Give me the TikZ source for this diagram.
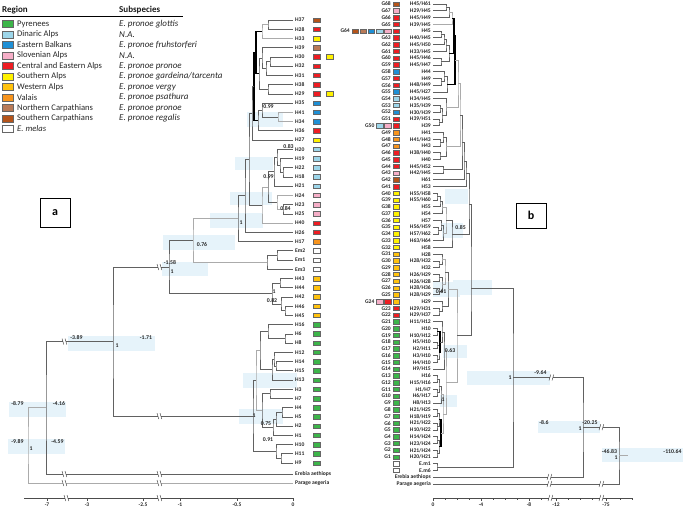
\documentclass[tikz,border=0pt]{standalone}
\usepackage{fontspec}
\setmainfont{Carlito}
\usetikzlibrary{calc}
\definecolor{py}{HTML}{3DB54A}
\definecolor{da}{HTML}{9DD6EA}
\definecolor{eb}{HTML}{1E8FD5}
\definecolor{sl}{HTML}{F6AFC8}
\definecolor{ce}{HTML}{EE1D23}
\definecolor{sa}{HTML}{FFF200}
\definecolor{wa}{HTML}{FFC20E}
\definecolor{va}{HTML}{F7941D}
\definecolor{nc}{HTML}{B97A57}
\definecolor{sc}{HTML}{B5541A}
\definecolor{shadeblue}{HTML}{E6F3FA}
\newcommand\tcl[5][br]{\path let \p1=($(#4)!0.5!(#5)$) in coordinate (#2) at (#3pt,\y1);\draw[#1] (#4) -| (#2) |- (#5);}
\newcommand\tcly[6][br]{\coordinate (#2) at (#3,#4);\draw[#1] (#5) -| (#2) |- (#6);}
\newcommand\bsl[2]{\fill[white] (#1-1.7,#2-1.2) rectangle (#1+0.5,#2+1.2);\draw[black!75,line width=0.45pt] (#1-3,#2-3) -- (#1-1.2,#2+3) (#1,#2-3) -- (#1+1.8,#2+3);}
\newcommand\fsl[2]{\fill[white] (#1-1.7,#2-1.2) rectangle (#1+0.5,#2+1.2);\draw[black!75,line width=0.45pt] (#1-1.2,#2-3) -- (#1-3,#2+3) (#1+1.8,#2-3) -- (#1,#2+3);}
\begin{document}
\begin{tikzpicture}[x=1pt,y=-1pt,
 br/.style={draw=black!62, line width=0.65pt},
 brl/.style={draw=black!33, line width=0.65pt},
 brk/.style={draw=black, line width=1.1pt},
 leaf/.style={font=\fontsize{5.6}{6}\selectfont\bfseries, inner sep=0pt, text=black!85},
 suplbl/.style={font=\fontsize{5.8}{6}\selectfont\bfseries, inner sep=0pt, text=black!85},
 cbox/.style={draw=black!60, line width=0.35pt, minimum width=6.5pt, minimum height=4.5pt, inner sep=0pt},
 lbox/.style={draw=black!60, line width=0.4pt, minimum width=11pt, minimum height=7pt, inner sep=0pt},
 legt/.style={anchor=west, inner sep=0pt, font=\fontsize{8.6}{9}\selectfont, text=black!85},
 legi/.style={anchor=west, inner sep=0pt, font=\fontsize{9}{9}\selectfont\itshape, text=black!85},
 legh/.style={anchor=west, inner sep=0pt, font=\fontsize{9}{9}\selectfont\bfseries, text=black!90},
 shd/.style={fill=shadeblue},
 axl/.style={font=\fontsize{5.5}{6}\selectfont\bfseries, inner sep=0pt, text=black!85},
 panel/.style={draw, line width=0.9pt, inner sep=0pt, font=\fontsize{12}{12}\selectfont\bfseries}
]
\useasboundingbox (0,0) rectangle (685,515);

% ---------- legend ----------
\node[legh] (hreg) at (2,10) {Region};
\node[legh] (hsub) at (119,10) {Subspecies};
\draw[line width=0.8pt] (0,16) -- (183,16);
\foreach \c/\r/\s [count=\i from 0] in {py/Pyrenees/{E. pronoe glottis}, da/Dinaric Alps/N.A., eb/Eastern Balkans/{E. pronoe fruhstorferi}, sl/Slovenian Alps/N.A., ce/Central and Eastern Alps/{E. pronoe pronoe}, sa/Southern Alps/{E. pronoe gardeina/tarcenta}, wa/Western Alps/{E. pronoe vergy}, va/Valais/{E. pronoe psathura}, nc/Northern Carpathians/{E. pronoe pronoe}, sc/Southern Carpathians/{E. pronoe regalis}}{
  \node[lbox,fill=\c] (lb\i) at (7.5,{24+10.5*\i}) {};
  \node[legt] (lr\i) at (17,{24+10.5*\i}) {\r};
  \node[legi] (ls\i) at (119,{24+10.5*\i}) {\s};
}
\node[lbox,fill=white] (lbm) at (7.5,129) {};
\node[legi,font=\fontsize{8.6}{9}\selectfont\itshape] (lrm) at (17,129) {E. melas};

% ---------- shaded boxes ----------
\fill[shd] (247,112) rectangle (283,127);
\fill[shd] (235,157) rectangle (273,170);
\fill[shd] (230,192) rectangle (272,205);
\fill[shd] (210,213) rectangle (263,228);
\fill[shd] (163,235) rectangle (235,250);
\fill[shd] (162,262) rectangle (208,276);
\fill[shd] (68,336) rectangle (155,351);
\fill[shd] (9,402) rectangle (66,417);
\fill[shd] (8,439) rectangle (65,454);
\fill[shd] (243,373) rectangle (297,388);
\fill[shd] (239,409) rectangle (283,424);
\fill[shd] (445,189) rectangle (468,204);
\fill[shd] (442,223) rectangle (463,238);
\fill[shd] (453,280) rectangle (492,295);
\fill[shd] (433,282) rectangle (460,297);
\fill[shd] (443,345) rectangle (467,358);
\fill[shd] (440,395) rectangle (457,407);
\fill[shd] (467,371) rectangle (550,385);
\fill[shd] (538,421) rectangle (600,433);
\fill[shd] (602,448) rectangle (683,462);

% ---------- left leaves ----------
\foreach \n/\c [count=\i from 0] in {H37/sc,H28/ce,H33/sa,H39/nc,H30/ce,H32/ce,H31/ce,H38/ce,H29/ce,H35/eb,H41/eb,H34/eb,H36/ce,H27/sa,H20/da,H19/da,H22/da,H18/da,H21/da,H24/sl,H23/sl,H25/sl,H40/ce,H26/ce,H17/va,Em2/white,Em1/white,Em3/white,H43/wa,H44/wa,H42/wa,H46/wa,H45/wa,H16/py,H6/py,H8/py,H12/py,H14/py,H15/py,H13/py,H3/py,H7/py,H4/py,H5/py,H2/py,H1/py,H10/py,H11/py,H9/py}{
  \coordinate (L\n) at (293,{20+9.23*\i});
  \node[leaf,anchor=west] (t\n) at (295,{20+9.23*\i}) {\n};
  \node[cbox,fill=\c] (b\n) at (316.5,{20+9.23*\i}) {};
}
\node[cbox,fill=sa] (bH30x) at ([xshift=13pt]bH30) {};
\node[cbox,fill=sa] (bH29x) at ([xshift=13pt]bH29) {};
\coordinate (LEre) at (293,474);
\coordinate (LPar) at (293,483);
\node[leaf,anchor=west] (tEre) at (295,474) {Erebia aethiops};
\node[leaf,anchor=west] (tPar) at (295,483) {Parage aegeria};

% ---------- left tree ----------
\tcl{n1}{268}{LH37}{LH28}
\tcl[brl]{n2}{262}{n1}{LH33}
\tcl{n3}{270}{LH30}{LH32}
\tcl{n4}{266}{n3}{LH31}
\tcl{n5}{262}{LH39}{n4}
\tcl{n6}{268}{LH38}{LH29}
\tcl{n7}{259}{n5}{n6}
\tcl[brk]{n8}{256}{n2}{n7}
\tcl[brl]{e1}{278}{LH41}{LH34}
\tcl{e2}{262}{LH35}{e1}
\tcl{e3}{258}{e2}{LH36}
\tcl[brk]{n9}{254}{n8}{e3}
\tcl{n10}{252}{n9}{LH27}
\tcl{d1}{283}{LH22}{LH18}
\tcl{d2}{280}{LH19}{d1}
\tcl{d3}{277}{LH20}{d2}
\tcl{d4}{274}{d3}{LH21}
\tcl{k1}{283}{LH23}{LH25}
\tcl[brl]{k2}{277}{LH24}{k1}
\tcl{dk}{268}{d4}{k2}
\tcl[brl]{dk2}{262}{dk}{LH40}
\tcl{lA}{249}{n10}{dk2}
\tcl{lB}{245}{lA}{LH26}
\tcl{lC}{238}{lB}{LH17}
\tcl{m1}{277}{LEm2}{LEm1}
\tcl{m2}{267}{m1}{LEm3}
\tcl[brl]{lD}{193}{lC}{m2}
\tcl{w1}{280}{LH43}{LH44}
\tcl{w2}{285}{LH46}{LH45}
\tcl{w3}{281}{LH42}{w2}
\tcl{w4}{272}{w1}{w3}
\tcl{lE}{169}{lD}{w4}
\tcl{p1}{285}{LH6}{LH8}
\tcl{p2}{268}{LH16}{p1}
\tcl{p3}{276}{LH14}{LH15}
\tcl{p4}{274}{LH12}{p3}
\tcl{p5}{272}{p4}{LH13}
\tcl{p6}{260}{p2}{p5}
\tcl{p7}{270}{LH3}{LH7}
\tcl{p8}{282}{LH4}{LH5}
\tcl{p9}{276}{p8}{LH2}
\tcl{p10}{273}{p9}{LH1}
\tcl{p11}{262}{p7}{p10}
\tcl[brl]{p12}{256}{p6}{p11}
\tcl{p13}{281}{LH11}{LH9}
\tcl{p14}{276}{LH10}{p13}
\tcl{lP}{253}{p12}{p14}
\tcl{lF}{113}{lE}{lP}
\tcl{lG}{46}{lF}{LEre}
\tcl[brl]{lR}{28}{lG}{LPar}

% left break marks
\bsl{160}{267} \bsl{65}{341.5} \bsl{160}{416.1}
\bsl{65}{474} \bsl{160}{474} \bsl{65}{483} \bsl{160}{483}

% left axis
\draw[black!70,line width=0.6pt] (24,498) -- (293,498);
\foreach \x/\t in {47/-7,87/-3,143/-2.5,180/-1,237/-0.5,293/0}{
  \draw[black!70,line width=0.5pt] (\x,498) -- (\x,500.5);
  \node[axl] at (\x,505) {\t};
}
\bsl{67}{498} \bsl{160}{498}

% left support labels
\node[suplbl] (s1) at (268.5,107) {0.99};
\node[suplbl] (s2) at (288.5,147) {0.83};
\node[suplbl] (s3) at (268.5,177) {0.99};
\node[suplbl] (s4) at (285.5,209) {0.84};
\node[suplbl] (s5) at (241,223) {1};
\node[suplbl] (s6) at (202,245) {0.76};
\node[suplbl] (s7) at (170,263) {-1.58};
\node[suplbl] (s8) at (172,272) {1};
\node[suplbl] (s9) at (274,292) {1};
\node[suplbl] (s10) at (272,301) {0.82};
\node[suplbl] (s11) at (254,416) {1};
\node[suplbl] (s12) at (266,424) {0.75};
\node[suplbl] (s13) at (268,440) {0.91};
\node[suplbl] (s14) at (76.5,338) {-3.89};
\node[suplbl] (s15) at (146,338) {-1.71};
\node[suplbl] (s16) at (117,346) {1};
\node[suplbl] (s17) at (17.5,404) {-8.79};
\node[suplbl] (s18) at (59,404) {-4.16};
\node[suplbl] (s19) at (17.5,442) {-9.89};
\node[suplbl] (s20) at (57.5,442) {-4.59};
\node[suplbl] (s21) at (31,449) {1};

\node[panel,minimum width=30pt,minimum height=29pt] (pa) at (55,212.5) {a};
\node[panel,minimum width=30pt,minimum height=25pt] (pb) at (531,215.5) {b};

% ---------- right leaves ----------
\foreach \g/\h/\c/\k in {68/{H45/H61}/sc/0, 67/{H29/H45}/sl/0, 66/{H45/H49}/ce/0, 65/{H39/H45}/ce/0, 64/H45/ce/5, 63/{H40/H45}/ce/0, 62/{H45/H50}/ce/0, 61/{H33/H45}/ce/0, 60/{H45/H46}/ce/0, 59/{H45/H47}/ce/0, 58/H44/eb/0, 57/H49/ce/0, 56/{H48/H49}/ce/0, 55/{H45/H27}/eb/0, 54/{H34/H45}/da/0, 53/{H35/H39}/da/0, 52/{H30/H39}/eb/0, 51/{H39/H51}/ce/0, 50/H39/ce/2, 49/H41/va/0, 48/{H41/H43}/va/0, 47/H43/va/0, 46/{H38/H40}/ce/0, 45/H40/ce/0, 44/{H45/H52}/ce/0, 43/{H42/H45}/sl/0, 42/H61/sc/0, 41/H53/ce/0, 40/{H55/H58}/sa/0, 39/{H55/H60}/sa/0, 38/H55/sa/0, 37/H54/sa/0, 36/H57/sa/0, 35/{H56/H59}/sa/0, 34/{H57/H62}/sa/0, 33/{H63/H64}/sa/0, 32/H58/sa/0, 31/H28/wa/0, 30/{H28/H32}/wa/0, 29/H32/wa/0, 28/{H26/H29}/wa/0, 27/{H26/H28}/wa/0, 26/{H28/H36}/wa/0, 25/{H28/H29}/wa/0, 24/H29/wa/2, 23/{H29/H31}/ce/0, 22/{H29/H37}/ce/0, 21/{H11/H12}/py/0, 20/H10/py/0, 19/{H10/H12}/py/0, 18/{H5/H10}/py/0, 17/{H2/H11}/py/0, 16/{H3/H10}/py/0, 15/{H4/H10}/py/0, 14/{H9/H15}/py/0, 13/H16/py/0, 12/{H15/H16}/py/0, 11/{H1/H7}/py/0, 10/{H6/H17}/py/0, 9/{H8/H13}/py/0, 8/{H21/H25}/py/0, 7/{H18/H19}/py/0, 6/{H21/H22}/py/0, 5/{H10/H22}/py/0, 4/{H14/H24}/py/0, 3/{H23/H24}/py/0, 2/{H21/H24}/py/0, 1/{H20/H21}/py/0}{
  \coordinate (G\g) at (433,{4+6.76*(68-\g)});
  \node[leaf,anchor=east] (h\g) at (431,{4+6.76*(68-\g)}) {\h};
  \node[cbox,fill=\c] (gb\g) at (396,{4+6.76*(68-\g)}) {};
  \node[leaf,anchor=east] (g\g) at ({391-8.2*\k},{4+6.76*(68-\g)}) {G\g};
}
\foreach \c [count=\j] in {sl,da,eb,nc,sc}{\node[cbox,fill=\c] (x64\j) at ({396-8.2*\j},31.04) {};}
\node[cbox,fill=sl] (x50a) at (387.8,125.68) {};
\node[cbox,fill=da] (x50b) at (379.6,125.68) {};
\node[cbox,fill=ce] (x24a) at (387.8,301.44) {};
\node[cbox,fill=sl] (x24b) at (379.6,301.44) {};
\coordinate (Em1r) at (433,463.7);
\coordinate (Em6r) at (433,470.4);
\node[leaf,anchor=east] (hEm1) at (431,463.7) {E.m1};
\node[leaf,anchor=east] (hEm6) at (431,470.4) {E.m6};
\node[cbox,fill=white] (bEm1) at (396,463.7) {};
\node[cbox,fill=white] (bEm6) at (396,470.4) {};
\coordinate (Ereb2) at (433,477);
\coordinate (Para2) at (433,484);
\node[leaf,anchor=east] (hEre) at (431,477) {Erebia aethiops};
\node[leaf,anchor=east] (hPar) at (431,484) {Parage aegeria};

% ---------- right tree ----------
\tcl{ra1}{446}{G68}{G67}
\tcl{ra2}{449}{ra1}{G66}
\tcl[brl]{ra3}{452}{ra2}{G65}
\tcl{rb1}{441}{G64}{G63}
\tcl{rb2}{444}{rb1}{G62}
\tcl{rb3}{446}{rb2}{G61}
\tcl{rb4}{441}{G60}{G59}
\tcl{rb5}{449}{rb3}{rb4}
\tcl{rc1}{441}{G57}{G56}
\tcl{rc2}{444}{G58}{rc1}
\tcl{rc3}{447}{rc2}{G55}
\tcl{rd1}{440}{G53}{G52}
\tcl{rd2}{439}{G51}{G50}
\tcl{rd3}{442}{rd1}{rd2}
\tcl{rd4}{446}{G54}{rd3}
\tcl{re1}{440}{G48}{G47}
\tcl{re2}{443}{G49}{re1}
\tcl{re3}{440}{G46}{G45}
\tcl{re4}{446}{re2}{re3}
\tcl{rf1}{443}{G44}{G43}
\tcl[brk]{rs1}{454}{ra3}{rb5}
\tcl[brk]{rs2}{455}{rs1}{rc3}
\tcl[brl]{rs3}{458}{rs2}{rd4}
\tcl[brl]{rs4}{460}{rs3}{re4}
\tcl{rs5}{462}{rs4}{rf1}
\tcl{rs6}{464}{rs5}{G42}
\tcl{rU}{466}{rs6}{G41}
\tcl{ry1}{437}{G40}{G39}
\tcl{ry2}{440}{ry1}{G38}
\tcl{ry3}{442}{ry2}{G37}
\tcl{ry4}{438}{G35}{G34}
\tcl{ry5}{441}{G36}{ry4}
\tcl{ry6}{443}{ry5}{G33}
\tcl[brl]{ry7}{446}{ry3}{ry6}
\tcl{rY}{452}{ry7}{G32}
\tcl{rV}{469}{rU}{rY}
\tcl{ro1}{439}{G30}{G29}
\tcl{ro2}{442}{G31}{ro1}
\tcl{ro3}{439}{G28}{G27}
\tcl{ro4}{439}{G26}{G25}
\tcl{ro5}{442}{ro3}{ro4}
\tcl[brl]{ro6}{445}{ro2}{ro5}
\tcl{ro8}{439}{G23}{G22}
\tcl{ro9}{442}{G24}{ro8}
\tcl{rO}{448}{ro6}{ro9}
\tcl{rp1}{437}{G20}{G19}
\tcl{rp2}{437}{G18}{G17}
\tcl{rp3}{437}{G16}{G15}
\tcl{rp4}{439}{rp2}{rp3}
\tcl[brk]{rp5}{440}{rp1}{rp4}
\tcl{rp6}{442}{G21}{rp5}
\tcl{rp7}{444}{rp6}{G14}
\tcl{rq1}{437}{G13}{G12}
\tcl{rq2}{437}{G11}{G10}
\tcl{rq3}{439}{rq1}{rq2}
\tcl{rq4}{441}{rq3}{G9}
\tcl{rr1}{437}{G8}{G7}
\tcl{rr2}{437}{G6}{G5}
\tcl{rr3}{439}{rr1}{rr2}
\tcl{rr4}{437}{G4}{G3}
\tcl{rr5}{437}{G2}{G1}
\tcl{rr6}{439}{rr4}{rr5}
\tcl[brk]{rr7}{441}{rr3}{rr6}
\tcl[brl]{rpB}{443}{rq4}{rr7}
\tcl[brl]{rPyr}{446}{rp7}{rpB}
\tcl[brl]{r63}{457}{rO}{rPyr}
\tcly{rX}{471}{288}{rV}{r63}
\tcl{rEm}{437}{Em1r}{Em6r}
\tcl{r9}{513}{rX}{rEm}
\tcl{r20}{583}{r9}{Ereb2}
\tcl{rR}{619}{r20}{Para2}
\draw[brl] (rR) -- ++(9,0);

% right break marks
\fsl{552}{377.5} \fsl{550}{477} \fsl{550}{484} \fsl{602}{484} \fsl{602}{427.2}

% right axis
\draw[black!70,line width=0.6pt] (433,498) -- (633,498);
\foreach \x in {445,457,469,493,505,517,541,568,580,592,620,632}{
  \draw[black!70,line width=0.5pt] (\x,498) -- (\x,500);
}
\foreach \x/\t in {433/0,481/-4,529/-8,556/-12,606/-75}{
  \draw[black!70,line width=0.5pt] (\x,498) -- (\x,500.5);
  \node[axl] at (\x,505) {\t};
}
\fsl{551}{498} \fsl{602}{498}

% right support labels
\node[suplbl] (u1) at (460.5,228) {0.85};
\node[suplbl] (u2) at (441,292) {0.61};
\node[suplbl] (u3) at (450,351) {0.63};
\node[suplbl] (u4) at (443,400) {1};
\node[suplbl] (u5) at (510,378) {1};
\node[suplbl] (u6) at (540.5,373) {-9.64};
\node[suplbl] (u7) at (544,423) {-8.6};
\node[suplbl] (u8) at (590,423) {-20.25};
\node[suplbl] (u9) at (580,429) {1};
\node[suplbl] (u10) at (609.5,452) {-46.83};
\node[suplbl] (u11) at (672.5,452) {-110.64};
\node[suplbl] (u12) at (616,457.5) {1};
\end{tikzpicture}
\end{document}
